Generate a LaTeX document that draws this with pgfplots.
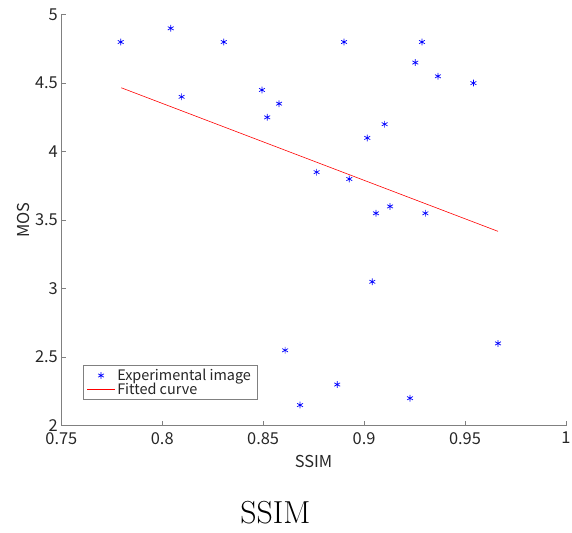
\documentclass[border=0pt]{standalone}
\usepackage{fontspec}
\usepackage{pgfplots}
\pgfplotsset{compat=1.18}
\newfontfamily\gothic{Noto Sans CJK JP}
\definecolor{axgray}{RGB}{128,128,128}
\definecolor{txt}{RGB}{38,38,38}
\definecolor{ptblue}{RGB}{0,0,255}
\definecolor{fitred}{RGB}{255,0,0}

\begin{document}
\begin{tikzpicture}
\path[use as bounding box] (-61.7pt,-107pt) rectangle (513.5pt,428pt);
\begin{axis}[
  scale only axis,
  width=507.3pt, height=413.3pt,
  xmin=0.75, xmax=1, ymin=2, ymax=5,
  axis x line=bottom, axis y line=left,
  axis line style={axgray, line width=0.6pt, -},
  tick align=inside,
  major tick length=5pt,
  tick style={axgray, line width=0.6pt},
  xtick={0.75,0.8,0.85,0.9,0.95,1},
  xticklabels={0.75,0.8,0.85,0.9,0.95,1\hspace{4pt}},
  ytick={2,2.5,3,3.5,4,4.5,5},
  yticklabels={2,2.5,3,3.5,4,4.5,5},
  ticklabel style={font=\gothic\fontsize{16.5}{18}\selectfont, text=txt},
  xticklabel style={yshift=-3pt, inner xsep=1pt},
  xlabel={SSIM}, ylabel={MOS},
  label style={font=\gothic\fontsize{16.5}{18}\selectfont, text=txt},
  xlabel style={yshift=-4pt},
  ylabel style={yshift=-1pt},
  legend style={at={(rel axis cs:0.042,0.063)}, anchor=south west,
    draw=axgray, line width=0.6pt, font=\gothic\fontsize{14.5}{16}\selectfont,
    text=txt, inner xsep=4pt, inner ysep=1.5pt, row sep=-3pt, cells={anchor=west}},
  legend image code/.code={\draw[#1] (0pt,0pt) -- (28pt,0pt);},
]
\addplot[only marks, mark=asterisk, mark size=3.4pt, color=ptblue, line width=0.7pt,
  legend image code/.code={\draw[##1] plot coordinates {(14pt,0pt)};}]
  coordinates {
  (0.7794,4.80) (0.8042,4.90) (0.8096,4.40) (0.8305,4.80) (0.8494,4.45)
  (0.8520,4.25) (0.8579,4.35) (0.8765,3.85) (0.8901,4.80) (0.8927,3.80)
  (0.9016,4.10) (0.9102,4.20) (0.9059,3.55) (0.9129,3.60) (0.9254,4.65)
  (0.9287,4.80) (0.9304,3.55) (0.9366,4.55) (0.9542,4.50) (0.9041,3.05)
  (0.8609,2.55) (0.8683,2.15) (0.8867,2.30) (0.9228,2.20) (0.9664,2.60)
  };
\addlegendentry{Experimental image}
\addplot[color=fitred, line width=0.6pt, no marks]
  coordinates {(0.7797,4.466) (0.9664,3.418)};
\addlegendentry{Fitted curve}
\end{axis}
\node[font=\fontsize{32}{36}\selectfont, anchor=center] at (215.3pt,-88pt) {SSIM};
\end{tikzpicture}
\end{document}
